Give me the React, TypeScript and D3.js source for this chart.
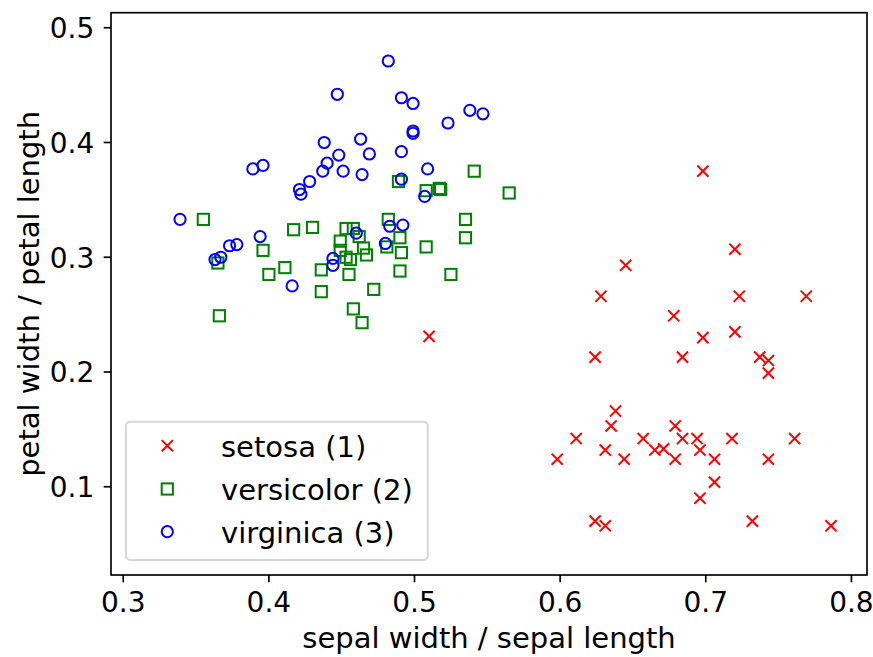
import React from 'react';
import * as d3 from 'd3';

// iris ratios: [sepal width / sepal length, petal width / petal length]
const setosa: [number, number][] = [
  [0.698, 0.375], [0.720, 0.307], [0.645, 0.293], [0.628, 0.266], [0.723, 0.266],
  [0.769, 0.266], [0.510, 0.231], [0.678, 0.249], [0.698, 0.230], [0.720, 0.235],
  [0.624, 0.213], [0.684, 0.213], [0.737, 0.213], [0.743, 0.210], [0.743, 0.199],
  [0.638, 0.166], [0.635, 0.153], [0.611, 0.142], [0.657, 0.142], [0.631, 0.132],
  [0.644, 0.124], [0.598, 0.124], [0.665, 0.132], [0.671, 0.133], [0.679, 0.153],
  [0.679, 0.124], [0.684, 0.142], [0.694, 0.142], [0.696, 0.132], [0.706, 0.124],
  [0.706, 0.104], [0.696, 0.090], [0.718, 0.142], [0.761, 0.142], [0.743, 0.124],
  [0.624, 0.070], [0.631, 0.066], [0.732, 0.070], [0.786, 0.066],
];

const versicolor: [number, number][] = [
  [0.355, 0.333], [0.365, 0.295], [0.366, 0.249], [0.396, 0.306], [0.400, 0.285],
  [0.411, 0.291], [0.417, 0.324], [0.430, 0.326], [0.436, 0.289], [0.436, 0.270],
  [0.453, 0.325], [0.458, 0.325], [0.462, 0.318], [0.449, 0.314], [0.449, 0.306],
  [0.453, 0.300], [0.456, 0.298], [0.465, 0.308], [0.467, 0.302], [0.455, 0.285],
  [0.472, 0.272], [0.458, 0.255], [0.464, 0.243], [0.481, 0.309], [0.482, 0.333],
  [0.490, 0.317], [0.491, 0.304], [0.490, 0.288], [0.508, 0.309], [0.525, 0.285],
  [0.535, 0.333], [0.535, 0.317], [0.489, 0.366], [0.508, 0.358], [0.517, 0.360],
  [0.518, 0.359], [0.541, 0.375], [0.565, 0.356],
];

const virginica: [number, number][] = [
  [0.482, 0.471], [0.447, 0.442], [0.491, 0.439], [0.499, 0.434], [0.538, 0.428],
  [0.547, 0.425], [0.523, 0.417], [0.499, 0.410], [0.499, 0.408], [0.438, 0.400],
  [0.463, 0.403], [0.448, 0.389], [0.469, 0.390], [0.491, 0.392], [0.440, 0.382],
  [0.437, 0.375], [0.451, 0.375], [0.464, 0.372], [0.389, 0.377], [0.396, 0.380],
  [0.509, 0.377], [0.491, 0.368], [0.428, 0.366], [0.421, 0.359], [0.422, 0.355],
  [0.507, 0.353], [0.339, 0.333], [0.363, 0.298], [0.367, 0.300], [0.373, 0.310],
  [0.378, 0.311], [0.394, 0.318], [0.416, 0.275], [0.444, 0.299], [0.444, 0.293],
  [0.460, 0.321], [0.483, 0.327], [0.492, 0.328], [0.480, 0.312],
];

const seriesNames = ['setosa (1)', 'versicolor (2)', 'virginica (3)'];
const seriesColors = ['#ff0000', '#008000', '#0000ff'];
const xTicks = [0.3, 0.4, 0.5, 0.6, 0.7, 0.8];
const yTicks = [0.1, 0.2, 0.3, 0.4, 0.5];

const W = 873;
const H = 657;
const plot = { left: 111, right: 867, top: 12.7, bottom: 575 };
const font = 'DejaVu Sans';
const R = 5.6; // marker half size
const SW = 2;

function Marker({ kind, x, y, color }: { kind: number; x: number; y: number; color: string }) {
  if (kind === 0) {
    return (
      <path
        d={`M${x - R},${y - R}L${x + R},${y + R}M${x - R},${y + R}L${x + R},${y - R}`}
        stroke={color}
        strokeWidth={SW}
        fill="none"
      />
    );
  }
  if (kind === 1) {
    return <rect x={x - R} y={y - R} width={2 * R} height={2 * R} stroke={color} strokeWidth={SW} fill="none" />;
  }
  return <circle cx={x} cy={y} r={R} stroke={color} strokeWidth={SW} fill="none" />;
}

export default function App() {
  const x = d3.scaleLinear().domain([0.2916, 0.8107]).range([plot.left, plot.right]);
  const y = d3.scaleLinear().domain([0.0231, 0.5131]).range([plot.bottom, plot.top]);
  const fmt = d3.format('.1f');
  const groups = [setosa, versicolor, virginica];

  // legend layout
  const lg = { x: 126, y: 421.7, w: 301.7, h: 138.3 };
  const rows = [445.7, 489, 531.7];

  return (
    <svg
      width={W}
      height={H}
      style={{ position: 'absolute', left: 0, top: 0, background: '#fff' }}
      fontFamily={font}
    >
      <rect width={W} height={H} fill="#fff" />
      <defs>
        <clipPath id="plot-area">
          <rect x={plot.left} y={plot.top} width={plot.right - plot.left} height={plot.bottom - plot.top} />
        </clipPath>
      </defs>

      <g clipPath="url(#plot-area)">
        {groups.map((pts, k) => (
          <g key={k}>
            {pts.map((d, i) => (
              <Marker key={i} kind={k} x={x(d[0])} y={y(d[1])} color={seriesColors[k]} />
            ))}
          </g>
        ))}
      </g>

      {/* axes frame */}
      <rect
        x={plot.left}
        y={plot.top}
        width={plot.right - plot.left}
        height={plot.bottom - plot.top}
        fill="none"
        stroke="#000"
        strokeWidth={1.67}
      />

      {xTicks.map((t) => (
        <g key={t} transform={`translate(${x(t)},${plot.bottom})`}>
          <line y2={7.3} stroke="#000" strokeWidth={1.67} />
          <text y={36.7} textAnchor="middle" fontSize={28}>
            {fmt(t)}
          </text>
        </g>
      ))}
      {yTicks.map((t) => (
        <g key={t} transform={`translate(${plot.left},${y(t)})`}>
          <line x2={-7.3} stroke="#000" strokeWidth={1.67} />
          <text x={-16.7} y={10.5} textAnchor="end" fontSize={28}>
            {fmt(t)}
          </text>
        </g>
      ))}

      <text x={(plot.left + plot.right) / 2} y={648} textAnchor="middle" fontSize={29}>
        sepal width / sepal length
      </text>
      <text
        transform={`translate(39,${(plot.top + plot.bottom) / 2}) rotate(-90)`}
        textAnchor="middle"
        fontSize={29}
      >
        petal width / petal length
      </text>

      {/* legend */}
      <rect
        x={lg.x}
        y={lg.y}
        width={lg.w}
        height={lg.h}
        rx={4}
        fill="#fff"
        fillOpacity={0.8}
        stroke="#d6d6d6"
        strokeWidth={2}
      />
      {seriesNames.map((name, k) => (
        <g key={name}>
          <Marker kind={k} x={167.3} y={rows[k]} color={seriesColors[k]} />
          <text x={221} y={rows[k] + 10.8} fontSize={29}>
            {name}
          </text>
        </g>
      ))}
    </svg>
  );
}
